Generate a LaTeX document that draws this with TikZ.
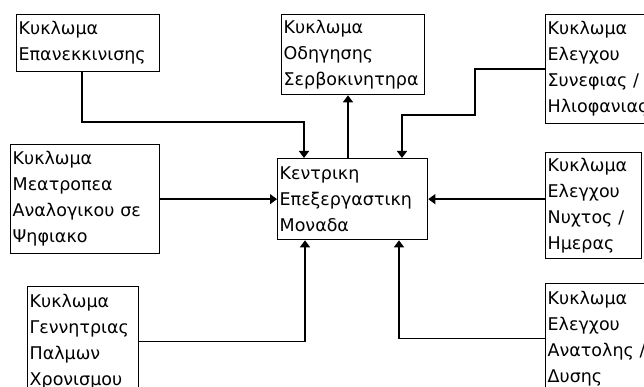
\documentclass[tikz,border=0pt]{standalone}
\usepackage{fontspec}
\setmainfont{DejaVu Sans}
\usetikzlibrary{arrows.meta}
\tikzset{
  blok/.style={draw, line width=1.3pt, anchor=north west, align=left,
    inner xsep=2pt, inner ysep=0pt, font=\fontsize{17.5}{26}\selectfont},
  sig/.style={line width=1.3pt, -{Triangle[width=10pt,length=7pt]}}
}

\begin{document}
\begin{tikzpicture}[x=1pt,y=-1pt]
\useasboundingbox (0,0) rectangle (644,387);
\clip (0,0) rectangle (644,387);
% blocks
\node[blok, text width=139pt, minimum height=57pt] (rst) at (16,14) {Κυκλωμα\\Επανεκκινισης};
\node[blok, text width=139pt, minimum height=80pt] (servo) at (281,14) {Κυκλωμα\\Οδηγησης\\Σερβοκινητηρα};
\node[blok, text width=160pt, minimum height=109pt] (cloud) at (545,14) {Κυκλωμα\\Ελεγχου\\Συνεφιας /\\Ηλιοφανιας};
\node[blok, text width=145pt, minimum height=109pt] (adc) at (10,144) {Κυκλωμα\\Μεατροπεα\\Αναλογικου σε\\Ψηφιακο};
\node[blok, text width=146pt, minimum height=81pt] (cpu) at (277,158) {Κεντρικη\\Επεξεργαστικη\\Μοναδα};
\node[blok, text width=92pt, minimum height=106pt] (night) at (545,152) {Κυκλωμα\\Ελεγχου\\Νυχτος /\\Ημερας};
\node[blok, text width=107pt, minimum height=110pt] (clock) at (27,286) {Κυκλωμα\\Γεννητριας\\Παλμων\\Χρονισμου};
\node[blok, text width=160pt, minimum height=110pt] (sun) at (545,283) {Κυκλωμα\\Ελεγχου\\Ανατολης /\\Δυσης};
% bends
\coordinate (k1) at (304,122);
\coordinate (k2) at (475,115);
\coordinate (k3) at (402,115);
\coordinate (u1) at (348,158);
% links
\draw[sig] ([xshift=66pt]rst.south west) |- (k1) -- (k1 |- cpu.north);
\draw[sig] (u1) -- (u1 |- servo.south);
\draw[sig] (cloud.west) -| (k2) -| (k3 |- cpu.north);
\draw[sig] (adc.east) -- (cpu.west);
\draw[sig] (night.west |- cpu.east) -- (cpu.east);
\draw[sig] (clock.east) -| ([xshift=28pt]cpu.south west);
\draw[sig] (sun.west) -| ([xshift=122pt]cpu.south west);
\end{tikzpicture}
\end{document}
